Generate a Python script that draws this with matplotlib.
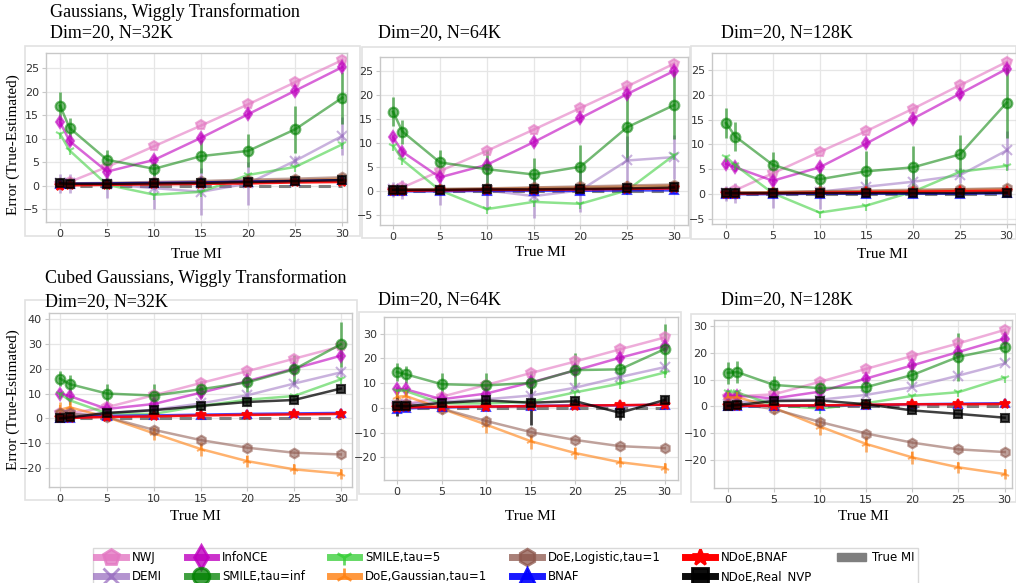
import matplotlib
matplotlib.use("Agg")
import matplotlib.pyplot as plt
from matplotlib.lines import Line2D
from matplotlib.patches import Patch, Rectangle

W, H = 1016, 583

# ---------------------------------------------------------------- data
true_mi = [0, 1, 5, 10, 15, 20, 25, 30]

series_names = ["NWJ", "DEMI", "InfoNCE", "SMILE,tau=inf", "SMILE,tau=5",
                "DoE,Gaussian,tau=1", "DoE,Logistic,tau=1", "BNAF",
                "NDoE,BNAF", "NDoE,Real_NVP"]

# Gaussians, wiggly transformation
gauss_32k = {
    "NWJ":                [0.3, 0.8, 4.0, 8.4, 12.8, 17.3, 22.0, 26.7],
    "DEMI":               [0.5, 0.5, 0.3, -0.5, -1.3, 0.5, 5.3, 10.6],
    "InfoNCE":            [13.5, 9.5, 3.0, 5.5, 10.2, 15.2, 20.2, 25.2],
    "SMILE,tau=inf":      [17.0, 12.3, 5.5, 3.6, 6.3, 7.4, 12.0, 18.7],
    "SMILE,tau=5":        [11.0, 7.5, 0.2, -1.9, -1.3, 2.3, 4.0, 8.8],
    "DoE,Gaussian,tau=1": [0.4, 0.4, 0.5, 0.6, 0.8, 1.0, 1.2, 1.5],
    "DoE,Logistic,tau=1": [0.5, 0.5, 0.6, 0.8, 1.0, 1.3, 1.5, 1.8],
    "BNAF":               [0.4, 0.4, 0.5, 0.6, 0.7, 0.9, 1.0, 1.2],
    "NDoE,BNAF":          [0.0, 0.1, 0.2, 0.3, 0.4, 0.5, 0.7, 0.8],
    "NDoE,Real_NVP":      [0.5, 0.4, 0.4, 0.5, 0.6, 0.8, 1.0, 1.2],
}
gauss_32k_err = {
    "SMILE,tau=inf": [3.0, 2.0, 2.0, 1.5, 3.5, 3.5, 5.0, 5.5],
    "DEMI":          [2.0, 2.0, 3.0, 4.5, 5.0, 4.5, 1.0, 4.0],
    "InfoNCE":       [0.8, 0.8, 0.8, 0.8, 0.8, 0.8, 0.8, 0.8],
}

gauss_64k = {
    "NWJ":                [0.3, 0.8, 4.2, 8.4, 12.8, 17.3, 21.8, 26.5],
    "DEMI":               [0.4, 0.4, 0.2, 0.2, -1.0, 0.2, 6.4, 7.1],
    "InfoNCE":            [11.2, 8.2, 2.9, 5.5, 10.2, 15.2, 20.2, 25.0],
    "SMILE,tau=inf":      [16.5, 12.4, 6.0, 4.6, 3.5, 5.1, 13.3, 17.9],
    "SMILE,tau=5":        [9.5, 6.5, 0.2, -3.7, -2.2, -2.6, 0.2, 7.5],
    "DoE,Gaussian,tau=1": [0.3, 0.3, 0.4, 0.5, 0.7, 0.8, 1.0, 1.2],
    "DoE,Logistic,tau=1": [0.3, 0.3, 0.5, 0.6, 0.8, 1.0, 1.2, 1.4],
    "BNAF":               [0.0, 0.0, 0.0, 0.1, 0.1, 0.1, 0.2, 0.2],
    "NDoE,BNAF":          [0.1, 0.1, 0.2, 0.3, 0.3, 0.4, 0.5, 0.6],
    "NDoE,Real_NVP":      [0.3, 0.3, 0.3, 0.4, 0.4, 0.5, 0.6, 0.8],
}
gauss_64k_err = {
    "SMILE,tau=inf": [3.0, 2.5, 2.5, 4.0, 3.5, 4.5, 7.0, 7.0],
    "DEMI":          [1.5, 2.0, 3.0, 4.0, 4.5, 4.5, 5.0, 4.5],
    "InfoNCE":       [0.8, 0.8, 0.8, 0.8, 0.8, 0.8, 0.8, 0.8],
}

gauss_128k = {
    "NWJ":                [0.3, 0.8, 4.2, 8.5, 12.7, 17.2, 21.9, 26.6],
    "DEMI":               [0.2, 0.3, 0.3, 0.5, 1.5, 2.5, 3.8, 8.8],
    "InfoNCE":            [6.1, 5.4, 2.7, 5.4, 10.2, 15.2, 20.2, 25.2],
    "SMILE,tau=inf":      [14.3, 11.6, 5.9, 3.0, 4.6, 5.4, 8.0, 18.4],
    "SMILE,tau=5":        [7.5, 5.8, 0.2, -3.7, -2.3, 0.5, 4.5, 5.7],
    "DoE,Gaussian,tau=1": [0.3, 0.3, 0.4, 0.5, 0.6, 0.7, 0.9, 1.0],
    "DoE,Logistic,tau=1": [0.3, 0.3, 0.4, 0.6, 0.7, 0.9, 1.0, 1.2],
    "BNAF":               [0.0, 0.0, 0.0, 0.1, 0.1, 0.1, 0.1, 0.2],
    "NDoE,BNAF":          [0.1, 0.1, 0.2, 0.3, 0.4, 0.5, 0.6, 0.7],
    "NDoE,Real_NVP":      [0.2, 0.2, 0.2, 0.2, 0.2, 0.2, 0.2, 0.3],
}
gauss_128k_err = {
    "SMILE,tau=inf": [3.0, 3.0, 2.5, 2.0, 4.0, 4.2, 4.0, 7.0],
    "DEMI":          [1.5, 2.0, 3.0, 3.5, 1.5, 2.0, 1.5, 4.0],
    "InfoNCE":       [0.8, 0.8, 0.8, 0.8, 0.8, 0.8, 0.8, 0.8],
}

# Cubed Gaussians, wiggly transformation
cubed_32k = {
    "NWJ":                [2.0, 2.0, 4.5, 9.3, 14.2, 19.0, 24.0, 29.0],
    "DEMI":               [1.0, 1.5, 2.0, 3.5, 6.0, 9.3, 14.0, 18.5],
    "InfoNCE":            [10.0, 9.0, 3.8, 5.8, 10.3, 15.0, 20.0, 25.2],
    "SMILE,tau=inf":      [16.0, 13.8, 10.0, 9.2, 11.7, 14.5, 19.7, 29.8],
    "SMILE,tau=5":        [9.8, 7.3, 2.0, 1.8, 5.0, 7.5, 9.0, 15.7],
    "DoE,Gaussian,tau=1": [3.5, 4.5, 0.5, -6.0, -12.3, -17.2, -20.5, -22.2],
    "DoE,Logistic,tau=1": [2.0, 2.0, 0.5, -4.6, -8.7, -11.8, -13.8, -14.5],
    "BNAF":               [0.2, 0.3, 1.0, 1.2, 1.5, 1.8, 2.0, 2.2],
    "NDoE,BNAF":          [0.0, 0.2, 0.6, 0.8, 1.2, 1.4, 1.6, 1.8],
    "NDoE,Real_NVP":      [0.0, 0.4, 2.2, 3.3, 5.0, 6.6, 7.4, 12.0],
}
cubed_32k_err = {
    "SMILE,tau=inf":      [3.0, 3.5, 4.0, 4.5, 3.5, 4.0, 6.0, 9.0],
    "DoE,Gaussian,tau=1": [3.0, 2.5, 1.5, 2.5, 3.0, 2.5, 2.0, 2.0],
    "InfoNCE":            [1.2, 1.2, 1.2, 1.2, 1.5, 1.5, 1.5, 1.5],
    "DEMI":               [1.0, 1.0, 1.0, 1.0, 1.0, 1.5, 1.5, 2.0],
}

cubed_64k = {
    "NWJ":                [1.0, 1.5, 4.5, 9.3, 14.1, 18.8, 23.7, 28.5],
    "DEMI":               [1.0, 1.5, 2.5, 3.5, 5.0, 8.2, 12.5, 16.5],
    "InfoNCE":            [7.5, 7.5, 3.5, 5.8, 10.3, 15.2, 20.3, 25.0],
    "SMILE,tau=inf":      [14.5, 13.6, 9.6, 9.1, 10.1, 15.3, 15.6, 23.8],
    "SMILE,tau=5":        [7.0, 6.8, 1.8, 1.8, 2.5, 6.3, 9.8, 14.3],
    "DoE,Gaussian,tau=1": [4.5, 4.8, -0.3, -6.8, -13.5, -18.3, -22.0, -24.2],
    "DoE,Logistic,tau=1": [1.5, 1.5, -0.3, -5.3, -9.8, -13.0, -15.5, -16.3],
    "BNAF":               [-0.3, -0.2, 0.2, 0.5, 0.8, 1.0, 1.0, 1.3],
    "NDoE,BNAF":          [0.0, 0.2, 0.4, 0.5, 0.7, 0.9, 1.1, 1.3],
    "NDoE,Real_NVP":      [0.8, 0.6, 2.0, 3.0, 2.1, 2.7, -2.0, 3.2],
}
cubed_64k_err = {
    "SMILE,tau=inf":      [3.5, 3.5, 4.5, 5.0, 5.0, 7.0, 5.5, 10.0],
    "DoE,Gaussian,tau=1": [2.0, 2.0, 2.0, 3.5, 3.0, 2.5, 2.0, 2.0],
    "NDoE,Real_NVP":      [4.0, 1.0, 1.5, 1.5, 9.0, 1.5, 3.0, 1.5],
    "InfoNCE":            [1.2, 1.2, 1.2, 1.2, 1.5, 1.5, 1.5, 1.5],
}

cubed_128k = {
    "NWJ":                [3.5, 3.8, 4.5, 9.2, 14.0, 18.8, 23.5, 28.5],
    "DEMI":               [1.0, 1.5, 2.5, 2.5, 4.3, 7.2, 11.5, 16.0],
    "InfoNCE":            [3.8, 4.0, 3.0, 5.5, 10.4, 15.3, 20.3, 25.3],
    "SMILE,tau=inf":      [12.5, 12.8, 8.0, 6.8, 7.2, 11.7, 18.5, 22.0],
    "SMILE,tau=5":        [5.5, 5.2, 0.5, -0.8, 1.2, 3.9, 5.3, 10.7],
    "DoE,Gaussian,tau=1": [3.5, 3.5, -0.5, -7.5, -14.0, -19.0, -22.7, -25.2],
    "DoE,Logistic,tau=1": [1.0, 1.0, -1.0, -5.8, -10.1, -13.5, -16.0, -17.0],
    "BNAF":               [0.0, 0.0, 0.3, 0.3, 0.5, 0.8, 1.0, 1.2],
    "NDoE,BNAF":          [0.2, 0.2, 0.3, 0.4, 0.6, 0.8, 0.8, 0.9],
    "NDoE,Real_NVP":      [0.2, 0.5, 2.0, 2.2, 0.8, -1.5, -2.8, -4.2],
}
cubed_128k_err = {
    "SMILE,tau=inf":      [4.0, 4.0, 3.5, 3.0, 3.5, 4.5, 9.0, 6.0],
    "DoE,Gaussian,tau=1": [2.0, 2.0, 2.5, 3.0, 3.0, 2.5, 2.0, 2.0],
    "InfoNCE":            [1.2, 1.2, 1.2, 1.2, 1.5, 1.5, 1.5, 1.5],
}

# ---------------------------------------------------------------- styles
style = {
    "NWJ":                dict(color="#e377c2", marker="p", alpha=0.6, ms=7),
    "DEMI":               dict(color="#9467bd", marker="x", alpha=0.5, ms=7),
    "InfoNCE":            dict(color="#bf00bf", marker="d", alpha=0.6, ms=6),
    "SMILE,tau=inf":      dict(color="#008000", marker="o", alpha=0.55, ms=7),
    "SMILE,tau=5":        dict(color="#32cd32", marker="1", alpha=0.55, ms=7),
    "DoE,Gaussian,tau=1": dict(color="#ff7f0e", marker="2", alpha=0.6, ms=7),
    "DoE,Logistic,tau=1": dict(color="#8c564b", marker="h", alpha=0.55, ms=7),
    "BNAF":               dict(color="#0000ff", marker="^", alpha=0.7, ms=6),
    "NDoE,BNAF":          dict(color="#ff0000", marker="*", alpha=0.9, ms=7),
    "NDoE,Real_NVP":      dict(color="#000000", marker="s", alpha=0.75, ms=6),
}

serif = ["Liberation Serif", "DejaVu Serif"]


def px_rect(l, t, r, b):
    return [l / W, 1 - b / H, (r - l) / W, (b - t) / H]


def fx(x):
    return x / W


def fy(y):
    return 1 - y / H


fig = plt.figure(figsize=(W / 100, H / 100), dpi=100)

# light panel frames
frames = [(25, 46, 360, 236), (362, 47, 690, 238), (691, 46, 1016, 239),
          (25, 300, 357, 500), (359, 312, 681, 494), (691, 314, 1016, 502)]
for l, t, r, b in frames:
    fig.add_artist(Rectangle((fx(l), fy(b)), (r - l) / W, (b - t) / H,
                             transform=fig.transFigure, fill=False,
                             edgecolor="#e2e2e2", lw=1.2, zorder=0))

panels = [
    dict(rect=(46, 53, 347, 222), means=gauss_32k, errs=gauss_32k_err,
         ylim=(-7.7, 28.2), xlim=(-1.5, 30.5), yticks=[-5, 0, 5, 10, 15, 20, 25],
         title=("Dim=20, N=32K", 50, 33), xlab=(196, 255)),
    dict(rect=(380, 57, 688, 225), means=gauss_64k, errs=gauss_64k_err,
         ylim=(-7.0, 27.9), xlim=(-1.4, 31.5), yticks=[-5, 0, 5, 10, 15, 20, 25],
         title=("Dim=20, N=64K", 378, 33), xlab=(540, 253)),
    dict(rect=(712, 53, 1016, 224), means=gauss_128k, errs=gauss_128k_err,
         ylim=(-6.0, 28.4), xlim=(-1.5, 31.0), yticks=[-5, 0, 5, 10, 15, 20, 25],
         title=("Dim=20, N=128K", 721, 33), xlab=(882, 254)),
    dict(rect=(49, 313, 352, 487), means=cubed_32k, errs=cubed_32k_err,
         ylim=(-27.6, 42.4), xlim=(-1.2, 31.2), yticks=[-20, -10, 0, 10, 20, 30, 40],
         title=("Dim=20, N=32K", 45, 302), xlab=(195, 517)),
    dict(rect=(384, 317, 678, 480), means=cubed_64k, errs=cubed_64k_err,
         ylim=(-29.2, 36.8), xlim=(-1.46, 31.5), yticks=[-20, -10, 0, 10, 20, 30],
         title=("Dim=20, N=64K", 378, 300), xlab=(530, 517)),
    dict(rect=(714, 320, 1012, 488), means=cubed_128k, errs=cubed_128k_err,
         ylim=(-30.4, 32.2), xlim=(-1.5, 30.8), yticks=[-20, -10, 0, 10, 20, 30],
         title=("Dim=20, N=128K", 721, 300), xlab=(863, 517)),
]

for p in panels:
    ax = fig.add_axes(px_rect(*p["rect"]))
    ax.set_facecolor("white")
    for name in series_names:
        st = style[name]
        yerr = p["errs"].get(name)
        ax.errorbar(true_mi, p["means"][name], yerr=yerr, color=st["color"],
                    marker=st["marker"], ms=st["ms"], alpha=st["alpha"],
                    lw=1.8, elinewidth=2.0, capsize=0, mew=1.5)
    ax.plot([true_mi[0], true_mi[-1]], [0, 0], ls=(0, (4, 2.5)),
            color="#7f7f7f", lw=2.2, zorder=1.5)
    ax.set_xlim(*p["xlim"])
    ax.set_ylim(*p["ylim"])
    ax.set_xticks([0, 5, 10, 15, 20, 25, 30])
    ax.set_yticks(p["yticks"])
    ax.grid(True, color="#e6e6e6", lw=0.9)
    ax.set_axisbelow(True)
    for s in ax.spines.values():
        s.set_color("#c8c8c8")
        s.set_linewidth(1.0)
    ax.tick_params(labelsize=8, colors="#333333", length=3, width=0.8,
                   pad=2, color="#c8c8c8")
    t, tx, ty = p["title"]
    fig.text(fx(tx), fy(ty), t, family=serif, fontsize=13, ha="left",
             va="center")
    fig.text(fx(p["xlab"][0]), fy(p["xlab"][1]), "True MI", family=serif,
             fontsize=11, ha="center", va="center")

fig.text(fx(50), fy(12), "Gaussians, Wiggly Transformation", family=serif,
         fontsize=13, ha="left", va="center")
fig.text(fx(45), fy(278), "Cubed Gaussians, Wiggly Transformation",
         family=serif, fontsize=13, ha="left", va="center")
for yc in (145, 400):
    fig.text(fx(13), fy(yc), "Error (True-Estimated)", family=serif,
             fontsize=11, rotation=90, ha="center", va="center")

# legend
handles = []
for name in series_names:
    st = style[name]
    handles.append(Line2D([0], [0], color=st["color"], marker=st["marker"],
                          alpha=min(st["alpha"] + 0.2, 1.0),
                          lw=5, ms=12, mew=2))
handles.append(Patch(facecolor="#7f7f7f", edgecolor="#7f7f7f"))
labels = series_names + ["True MI"]
leg = fig.legend(handles, labels, ncol=6, loc="upper left",
                 bbox_to_anchor=(fx(87), fy(542)), fontsize=8.5,
                 handlelength=2.5, handletextpad=0.5, columnspacing=2.1,
                 labelspacing=0.45, borderpad=0.3, frameon=True,
                 fancybox=False, edgecolor="#d0d0d0")
leg.get_frame().set_linewidth(1.0)

fig.savefig("out.png", dpi=100)
